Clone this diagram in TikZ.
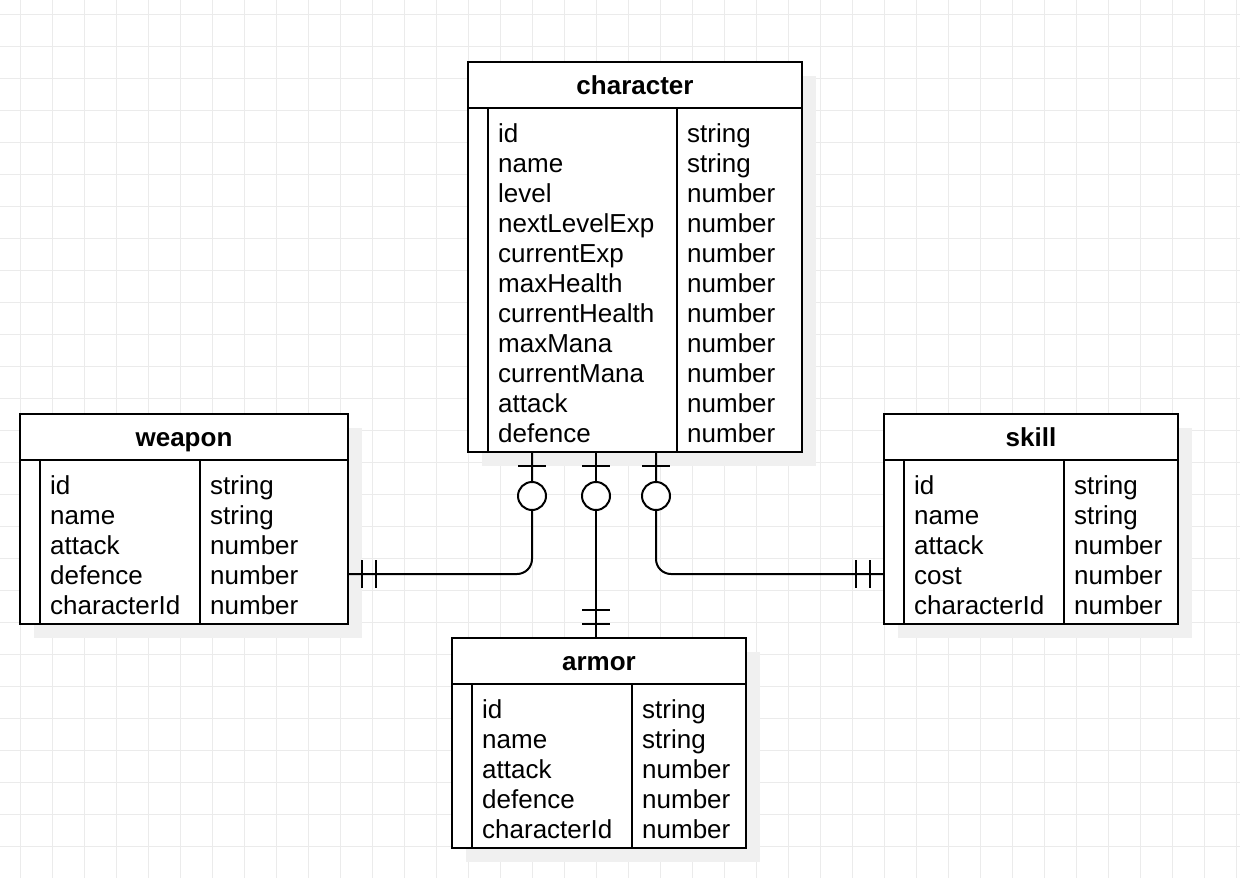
\documentclass[tikz,border=0pt]{standalone}
\usepackage{fontspec}
\setmainfont{Liberation Sans}
\usetikzlibrary{calc}
\definecolor{gridcol}{RGB}{235,235,235}
\definecolor{shadowcol}{RGB}{240,240,240}
\tikzset{
  gridline/.style={draw=gridcol, line width=1},
  shadowfill/.style={fill=shadowcol},
  tablebox/.style={draw=black, line width=2, fill=white, inner sep=0, outer sep=0},
  tableline/.style={draw=black, line width=2},
  titletext/.style={anchor=base, inner sep=0, font=\fontsize{26}{30}\selectfont\bfseries},
  fieldtext/.style={anchor=base west, inner sep=0, font=\fontsize{26}{30}\selectfont},
  conn/.style={draw=black, line width=2},
  optcircle/.style={circle, draw=black, line width=2, fill=white, minimum size=28, inner sep=0},
}
\newcommand{\ertable}[8]{%
  \fill[shadowfill] (#2+14,#3+14) rectangle ++(#4,#5);
  \node[tablebox, minimum width=#4, minimum height=#5, anchor=north west] (#1) at (#2,#3) {};
  \node[titletext] (#1-title) at (#2+#4/2,#3+32) {#7};
  \draw[tableline] (#2,#3+46) -- ++(#4,0);
  \draw[tableline] (#2+20,#3+46) -- (#2+20,#3+#5);
  \draw[tableline] (#2+#6,#3+46) -- (#2+#6,#3+#5);
  \foreach \fn/\ft [count=\i] in {#8} {
    \node[fieldtext] (#1-n\i) at (#2+30,#3+50+30*\i) {\fn};
    \node[fieldtext] (#1-t\i) at (#2+#6+10,#3+50+30*\i) {\ft};
  }%
}
\begin{document}
\begin{tikzpicture}[x=1pt,y=-1pt]
\useasboundingbox (0,0) rectangle (1240,878);
\fill[white] (0,0) rectangle (1240,878);
% grid
\foreach \gx in {0,...,38} \draw[gridline] (20.5+32*\gx,0) -- (20.5+32*\gx,878);
\foreach \gy in {0,...,27} \draw[gridline] (0,14.5+32*\gy) -- (1240,14.5+32*\gy);
% tables
\ertable{character}{468}{62}{334}{390}{209}{character}{id/string,name/string,level/number,nextLevelExp/number,currentExp/number,maxHealth/number,currentHealth/number,maxMana/number,currentMana/number,attack/number,defence/number}
\ertable{weapon}{20}{414}{328}{210}{180}{weapon}{id/string,name/string,attack/number,defence/number,characterId/number}
\ertable{skill}{884}{414}{294}{210}{180}{skill}{id/string,name/string,attack/number,cost/number,characterId/number}
\ertable{armor}{452}{638}{294}{210}{180}{armor}{id/string,name/string,attack/number,defence/number,characterId/number}
% connectors
\draw[conn, rounded corners=15] ($(character.south west)+(64,0)$) |- ($(weapon.north east)+(0,160)$);
\draw[conn] ($(character.south west)+(128,0)$) -- ($(armor.north west)+(144,0)$);
\draw[conn, rounded corners=15] ($(character.south west)+(188,0)$) |- ($(skill.north west)+(0,160)$);
% character-side markers (one, optional)
\foreach \dx/\nm in {64/cw,128/ca,188/cs} {
  \draw[conn] ($(character.south west)+(\dx-14,14)$) -- ++(28,0);
  \node[optcircle] (opt-\nm) at ($(character.south west)+(\dx,44)$) {};
}
% weapon end: mandatory one
\draw[conn] ($(weapon.north east)+(14,146)$) -- ++(0,28);
\draw[conn] ($(weapon.north east)+(28,146)$) -- ++(0,28);
% skill end
\draw[conn] ($(skill.north west)+(-14,146)$) -- ++(0,28);
\draw[conn] ($(skill.north west)+(-28,146)$) -- ++(0,28);
% armor end
\draw[conn] ($(armor.north west)+(130,-14)$) -- ++(28,0);
\draw[conn] ($(armor.north west)+(130,-28)$) -- ++(28,0);
\end{tikzpicture}
\end{document}
